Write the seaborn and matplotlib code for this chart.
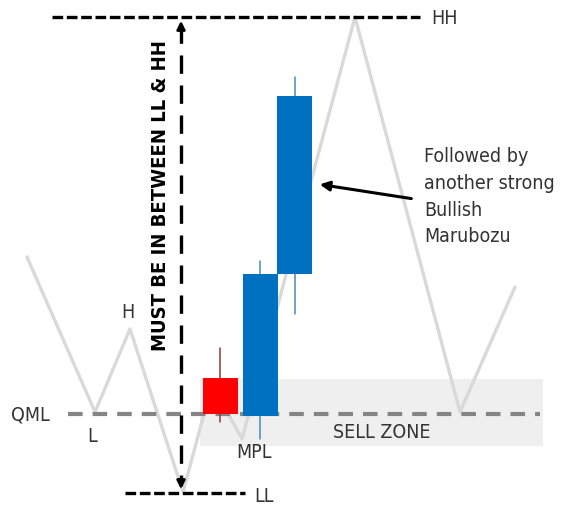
import matplotlib
matplotlib.use("Agg")
import matplotlib.pyplot as plt
import seaborn as sns
import pandas as pd

# Diagram drawn in picture units (x right, y down), 562 x 506
zigzag_x = [27, 95, 130, 183, 212, 242, 355, 460, 515]
zigzag_y = [258, 413, 330, 493, 385, 440, 18, 413, 288]

candle_x = [220, 260, 294.5]
candle_open = [379, 417, 275]
candle_close = [415, 275, 97]
candle_high = [349, 262, 78]
candle_low = [423, 440, 315]
candle_color = ["#ff0000", "#0070c0", "#0070c0"]
wick_color = ["#8b3a3a", "#4a8ab8", "#4a8ab8"]

hh_level = 18
ll_level = 494
qml_level = 415
zone_top, zone_bottom = 380, 447

note_lines = ["Followed by", "another strong", "Bullish", "Marubozu"]

sns.set_style("white")
plt.rcParams["font.family"] = ["DejaVu Sans"]
plt.rcParams["font.stretch"] = "condensed"
txt = "#333333"
fs = 14

fig = plt.figure(figsize=(5.62, 5.06), dpi=100)
ax = fig.add_axes([0, 0, 1, 1])
ax.set_xlim(0, 562)
ax.set_ylim(506, 0)
ax.axis("off")

# sell zone
ax.add_patch(plt.Rectangle((200, zone_top), 343, zone_bottom - zone_top,
                           color="#efefef", zorder=0, lw=0))
ax.text(382, 433, "SELL ZONE", fontsize=fs, color=txt, ha="center", va="center")

# price path
path = pd.DataFrame({"x": zigzag_x, "y": zigzag_y})
sns.lineplot(data=path, x="x", y="y", sort=False, color="#d9d9d9", lw=2.4, ax=ax, zorder=1)

# QML line
ax.plot([68, 540], [qml_level, qml_level], color="#858585", lw=3,
        ls=(0, (3.5, 2.4)), zorder=2)

# candles
for i in range(len(candle_x)):
    ax.plot([candle_x[i], candle_x[i]], [candle_high[i], candle_low[i]],
            color=wick_color[i], lw=1.1, zorder=3)
    top = min(candle_open[i], candle_close[i])
    h = abs(candle_open[i] - candle_close[i])
    ax.bar(candle_x[i], h, bottom=top, width=35, color=candle_color[i],
           edgecolor="none", linewidth=0, zorder=4)

# HH / LL levels
ax.plot([52, 420], [hh_level, hh_level], color="black", lw=2.4, ls=(0, (3.2, 1.1)), zorder=5)
ax.plot([125, 245], [ll_level, ll_level], color="black", lw=2.4, ls=(0, (3.2, 1.1)), zorder=5)
ax.text(431, hh_level, "HH", fontsize=fs, color=txt, va="center")
ax.text(254, ll_level + 3, "LL", fontsize=fs, color=txt, va="center")

# vertical range arrow
ax.plot([181, 181], [hh_level + 8, ll_level - 8], color="black", lw=2.4,
        ls=(0, (5.5, 3.5)), zorder=5)
ax.annotate("", xy=(181, hh_level + 1), xytext=(181, hh_level + 14),
            arrowprops=dict(arrowstyle="-|>", color="black", lw=2, mutation_scale=12))
ax.annotate("", xy=(181, ll_level - 1), xytext=(181, ll_level - 14),
            arrowprops=dict(arrowstyle="-|>", color="black", lw=2, mutation_scale=12))
ax.text(161, 196, "MUST BE IN BETWEEN LL & HH", rotation=90, fontsize=14.5,
        fontweight="bold", color="black", ha="center", va="center")

# labels
ax.text(11, qml_level, "QML", fontsize=fs, color=txt, va="center")
ax.text(92, 437, "L", fontsize=fs, color=txt, ha="center", va="center")
ax.text(128, 313, "H", fontsize=fs, color=txt, ha="center", va="center")
ax.text(254, 453, "MPL", fontsize=fs, color=txt, ha="center", va="center")

# annotation
ax.annotate("", xy=(317, 185), xytext=(414, 200),
            arrowprops=dict(arrowstyle="-|>", color="black", lw=2.2, mutation_scale=14))
for k, line in enumerate(note_lines):
    ax.text(424, 156 + 27 * k, line, fontsize=fs, color=txt, va="center")

fig.savefig("out.png", dpi=100)
